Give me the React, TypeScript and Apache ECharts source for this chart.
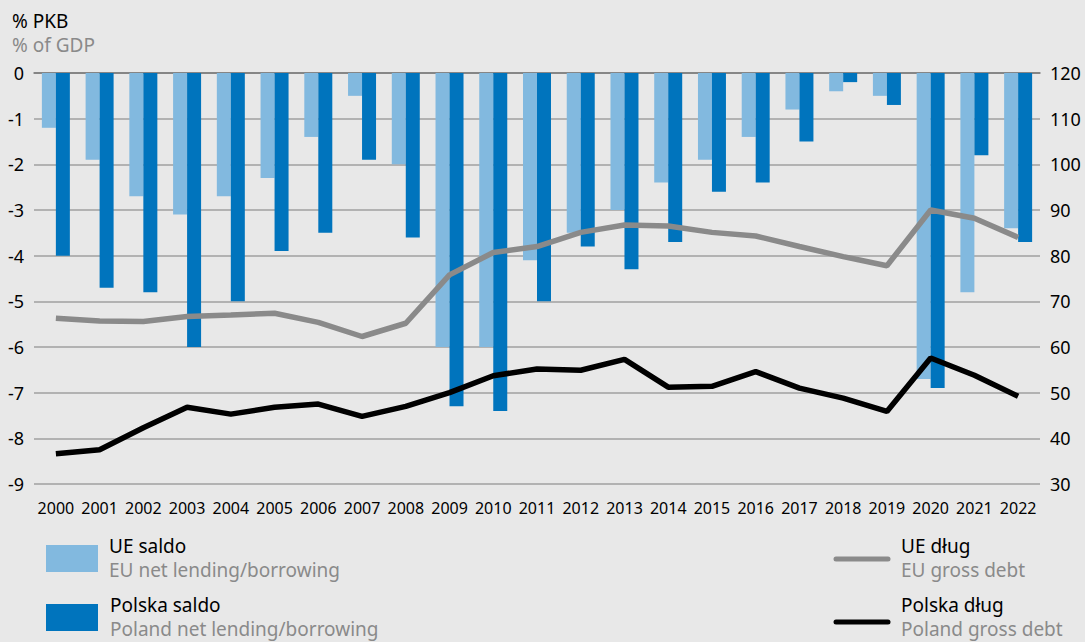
import React, { useEffect, useRef } from "react";
import * as echarts from "echarts";

const years = ["2000","2001","2002","2003","2004","2005","2006","2007","2008","2009","2010","2011","2012","2013","2014","2015","2016","2017","2018","2019","2020","2021","2022"];
const euSaldo = [-1.2,-1.9,-2.7,-3.1,-2.7,-2.3,-1.4,-0.5,-2.0,-6.0,-6.0,-4.1,-3.5,-3.0,-2.4,-1.9,-1.4,-0.8,-0.4,-0.5,-6.7,-4.8,-3.4];
const plSaldo = [-4.0,-4.7,-4.8,-6.0,-5.0,-3.9,-3.5,-1.9,-3.6,-7.3,-7.4,-5.0,-3.8,-4.3,-3.7,-2.6,-2.4,-1.5,-0.2,-0.7,-6.9,-1.8,-3.7];
const euDebt = [66.3,65.7,65.6,66.7,67.0,67.4,65.4,62.3,65.2,75.8,80.7,82.0,85.1,86.7,86.5,85.1,84.3,82.0,79.8,77.8,90.0,88.2,84.0];
const plDebt = [36.6,37.5,42.3,46.8,45.3,46.8,47.5,44.8,47.0,50.0,53.7,55.2,54.9,57.3,51.2,51.4,54.6,51.0,48.8,45.9,57.6,53.8,49.2];
const leftTicks = { min: -9, max: 0, interval: 1 };
const rightTicks = { min: 30, max: 120, interval: 10 };

const FONT = "Noto Sans";
const C_LIGHT = "#82b9df";
const C_DARK = "#0074bd";
const C_GRAY = "#8a8a8a";
const C_BLACK = "#000000";

export default function App() {
  const ref = useRef<HTMLDivElement>(null);
  useEffect(() => {
    if (!ref.current) return;
    const chart = echarts.init(ref.current, null, { renderer: "svg" });
    const txt = (x: number, y: number, text: string, color: string, size = 19) => ({
      type: "text", x, y,
      style: { text, fill: color, font: `${size}px "${FONT}"`, lineHeight: 22, textVerticalAlign: "middle" },
    });
    chart.setOption({
      animation: false,
      backgroundColor: "#e8e8e8",
      textStyle: { fontFamily: FONT },
      grid: { left: 34, right: 45, top: 73, bottom: 158 },
      xAxis: [
        {
          type: "category", data: years, position: "bottom",
          axisLine: { show: false, onZero: false },
          axisTick: { show: false },
          axisLabel: { color: "#000", fontSize: 16, margin: 16, fontFamily: FONT, interval: 0 },
        },
        {
          type: "category", data: years, position: "top",
          axisLine: { show: true, lineStyle: { color: "#777", width: 1.5 } },
          axisTick: { show: false }, axisLabel: { show: false },
        },
      ],
      yAxis: [
        {
          type: "value", ...leftTicks, position: "left",
          axisLabel: { color: "#000", fontSize: 18, margin: 10, fontFamily: FONT },
          splitLine: { lineStyle: { color: "#a0a0a0", width: 1.5 } },
          axisLine: { show: false }, axisTick: { show: false },
        },
        {
          type: "value", ...rightTicks, position: "right",
          axisLabel: { color: "#000", fontSize: 18, margin: 10, fontFamily: FONT },
          splitLine: { show: false },
          axisLine: { show: false }, axisTick: { show: false },
        },
      ],
      series: [
        { name: "UE saldo", type: "bar", data: euSaldo, itemStyle: { color: C_LIGHT }, barGap: "0%", barCategoryGap: "36%", xAxisIndex: 0, yAxisIndex: 0 },
        { name: "Polska saldo", type: "bar", data: plSaldo, itemStyle: { color: C_DARK }, barGap: "0%", barCategoryGap: "36%", xAxisIndex: 0, yAxisIndex: 0 },
        { name: "UE dług", type: "line", data: euDebt, yAxisIndex: 1, xAxisIndex: 0, symbol: "none", lineStyle: { color: C_GRAY, width: 5.5 } },
        { name: "Polska dług", type: "line", data: plDebt, yAxisIndex: 1, xAxisIndex: 0, symbol: "none", lineStyle: { color: C_BLACK, width: 5.5 } },
      ],
      graphic: [
        txt(12, 21, "% PKB", "#000"),
        txt(12, 45, "% of GDP", "#8a8a8a"),
        { type: "rect", shape: { x: 46, y: 545, width: 52, height: 27 }, style: { fill: C_LIGHT } },
        txt(109, 546, "UE saldo", "#000"),
        txt(109, 570, "EU net lending/borrowing", "#8a8a8a"),
        { type: "rect", shape: { x: 46, y: 604, width: 52, height: 27 }, style: { fill: C_DARK } },
        txt(110, 605, "Polska saldo", "#000"),
        txt(110, 629, "Poland net lending/borrowing", "#8a8a8a"),
        { type: "line", shape: { x1: 836, y1: 559, x2: 888, y2: 559 }, style: { stroke: C_GRAY, lineWidth: 5, lineCap: "round" } },
        txt(901, 546, "UE dług", "#000"),
        txt(901, 570, "EU gross debt", "#8a8a8a"),
        { type: "line", shape: { x1: 836, y1: 622, x2: 888, y2: 622 }, style: { stroke: C_BLACK, lineWidth: 5, lineCap: "round" } },
        txt(901, 605, "Polska dług", "#000"),
        txt(901, 629, "Poland gross debt", "#8a8a8a"),
      ],
    });
    return () => chart.dispose();
  }, []);
  return <div ref={ref} style={{ width: 1085, height: 642, position: "fixed", left: 0, top: 0 }} />;
}
